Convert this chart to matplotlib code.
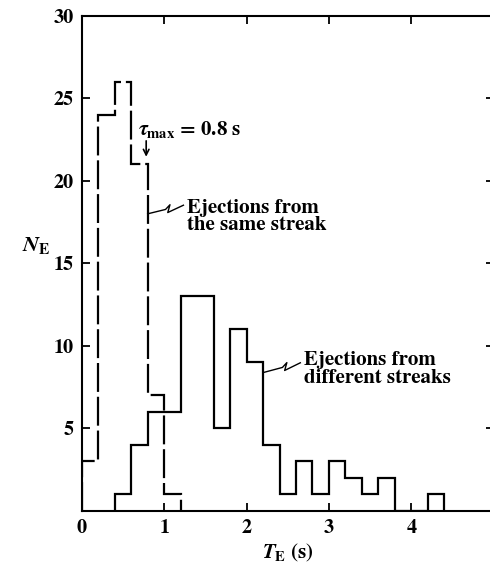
import numpy as np
import matplotlib
matplotlib.use("Agg")
import matplotlib.pyplot as plt

plt.rcParams['font.family'] = ['STIXGeneral', 'DejaVu Serif']
plt.rcParams['mathtext.fontset'] = 'stix'
plt.rcParams['font.weight'] = 'bold'

# ejection time histograms, bin width 0.2 s
same_edges = np.round(np.arange(0.0, 1.21, 0.2), 2)
same_counts = [3, 24, 26, 21, 7, 1]

diff_edges = np.round(np.arange(0.4, 4.41, 0.2), 2)
diff_counts = [1, 4, 6, 6, 13, 13, 5, 11, 9, 4, 1, 3, 1, 3, 2, 1, 2, 0, 0, 1]

x_ticks = [0, 1, 2, 3, 4]
y_ticks = [5, 10, 15, 20, 25, 30]
tau_max = 0.8


def squiggle(ax, x0, y0, x1, y1):
    # small leader line with a zig in the middle, like the hand-drawn ones
    t = np.array([0.0, 0.5, 0.62, 0.56, 1.0])
    off = np.array([0.0, 0.0, 0.22, -0.22, 0.0])
    xs = x0 + (x1 - x0) * t
    ys = y0 + (y1 - y0) * t + off
    ax.plot(xs, ys, color='black', lw=1.0, solid_capstyle='butt')


fig = plt.figure(figsize=(4.9, 5.63), dpi=100)
ax = fig.add_axes([0.1673, 0.0924, 0.84, 0.8792])

ax.stairs(same_counts, same_edges, baseline=0, color='black', lw=1.6,
          linestyle=(0, (13, 2.2)))
ax.stairs(diff_counts, diff_edges, baseline=0, color='black', lw=1.6)

ax.set_xlim(0, 5)
ax.set_ylim(0, 30)
ax.set_xticks(x_ticks)
ax.set_yticks(y_ticks)
ax.tick_params(direction='in', top=True, right=True, length=6, width=1.3,
               labelsize=14.5, pad=6)
for lab in ax.get_xticklabels() + ax.get_yticklabels():
    lab.set_fontweight('bold')
for sp in ax.spines.values():
    sp.set_linewidth(1.5)

ax.set_xlabel(r'$T_{\mathbf{E}}$ (s)', fontsize=15, fontweight='bold', labelpad=3)
ax.set_ylabel(r'$N_{\mathbf{E}}$', fontsize=16, rotation=0, va='center')
ax.yaxis.set_label_coords(-0.11, 0.537)

ax.annotate('', xy=(tau_max - 0.02, 21.3), xytext=(tau_max - 0.02, 22.6),
            arrowprops=dict(arrowstyle='->', lw=1.2, color='black'))
ax.text(0.68, 23.1, r'$\tau_{\mathbf{max}}$ = 0.8 s', fontsize=15,
        fontweight='bold', ha='left', va='center')

squiggle(ax, 0.79, 18.0, 1.24, 18.55)
ax.text(1.28, 17.85, 'Ejections from\nthe same streak', fontsize=15,
        fontweight='bold', ha='left', va='center', linespacing=0.95)

squiggle(ax, 2.21, 8.4, 2.66, 9.0)
ax.text(2.7, 8.6, 'Ejections from\ndifferent streaks', fontsize=15,
        fontweight='bold', ha='left', va='center', linespacing=0.95)

fig.savefig('out.png', dpi=100)
